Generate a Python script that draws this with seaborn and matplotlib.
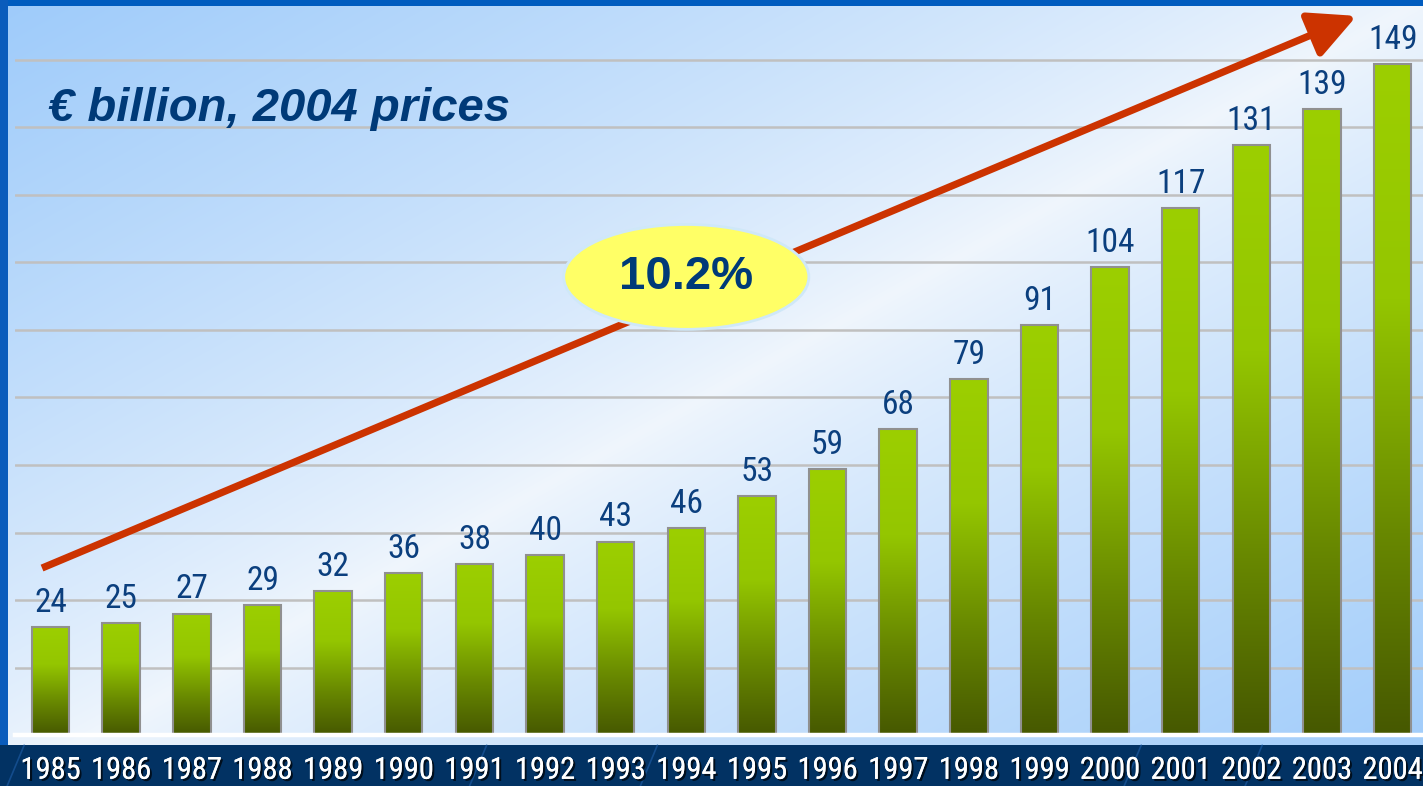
import numpy as np
import pandas as pd
import matplotlib
matplotlib.use("Agg")
import matplotlib.pyplot as plt
import matplotlib.patheffects as pe
from matplotlib.patches import Ellipse
from matplotlib.colors import LinearSegmentedColormap, to_rgb
import seaborn as sns

# data
years = [str(y) for y in range(1985, 2005)]
values = [24, 25, 27, 29, 32, 36, 38, 40, 43, 46, 53, 59, 68, 79, 91, 104, 117, 131, 139, 149]
growth_label = "10.2%"
title_text = "€ billion, 2004 prices"

W, H = 1423, 786
NAVY = "#023263"
TEXT_BLUE = "#003a78"
VALUE_BLUE = "#0b3f7e"

sns.set_theme(style="white")
plt.rcParams["font.family"] = ["Liberation Sans", "DejaVu Sans"]
narrow = ["Roboto Condensed", "DejaVu Sans"]

fig = plt.figure(figsize=(W / 100, H / 100), dpi=100)
fig.patch.set_facecolor(NAVY)

# background: blue frame, gradient panel, navy strip at the bottom
img = np.zeros((H, W, 3))
img[:, :] = to_rgb(NAVY)
yy, xx = np.mgrid[0:H, 0:W]
t = (xx / W + yy / H) / 2.0
s = np.abs(2 * t - 1) ** 0.8
blue = np.array(to_rgb("#9ecbfa"))
white = np.array(to_rgb("#f0f6fd"))
grad = white[None, None, :] * (1 - s[..., None]) + blue[None, None, :] * s[..., None]
panel = (yy >= 6) & (yy < 745) & (xx >= 8)
img[panel] = grad[panel]
img[:6, :] = to_rgb("#005cbf")
img[:745, :8] = to_rgb("#0a5cbc")

bg = fig.add_axes([0, 0, 1, 1])
bg.imshow(img, extent=[0, 1, 0, 1], aspect="auto", interpolation="nearest")
# faint decorative streaks in the navy strip
for x0 in [0.005, 0.45, 0.79, 0.875, 0.33]:
    bg.plot([x0, x0 + 0.012], [0.0, 0.052], color="#1f5ea8", lw=1.2, alpha=0.6)
bg.set_xlim(0, 1)
bg.set_ylim(0, 1)
bg.axis("off")

# main chart axes
ax = fig.add_axes([15.2 / W, 51 / H, 1412.8 / W, 729 / H])
ax.set_facecolor("none")

df = pd.DataFrame({"year": years, "value": values})
sns.barplot(data=df, x="year", y="value", ax=ax, width=0.53, color="#99cc00",
            edgecolor="#909090", linewidth=1.5, zorder=3)

bar_cmap = LinearSegmentedColormap.from_list(
    "bar", [(0.0, "#9ccf00"), (0.35, "#94c600"), (0.7, "#688800"), (1.0, "#465800")])
grad_col = np.linspace(0, 1, 256)[:, None]
for p in ax.patches:
    x0, y0 = p.get_x(), p.get_y()
    w, h = p.get_width(), p.get_height()
    im = ax.imshow(grad_col, cmap=bar_cmap, extent=[x0, x0 + w, y0, y0 + h],
                   aspect="auto", origin="upper", zorder=2.5, interpolation="bilinear")
    im.set_clip_path(p)
    p.set_facecolor("none")

ax.set_xlim(-0.5, len(years) - 0.5)
ax.set_ylim(0, 162)

# value labels
for i, v in enumerate(values):
    ax.annotate(str(v), (i, v), xytext=(0, 8), textcoords="offset pixels",
                ha="center", va="bottom", fontsize=24, color=VALUE_BLUE,
                family=narrow, zorder=6)

# gridlines
ax.set_yticks(np.arange(15, 151, 15))
ax.yaxis.grid(True, color="#c0c0c0", lw=1.8, zorder=1)
ax.set_axisbelow(True)
ax.tick_params(axis="y", length=0, labelleft=False)
ax.tick_params(axis="x", length=0, pad=15)
ax.set_xlabel("")
ax.set_ylabel("")
for side in ["top", "left", "right"]:
    ax.spines[side].set_visible(False)
ax.spines["bottom"].set_color("white")
ax.spines["bottom"].set_linewidth(3.2)
ax.spines["bottom"].set_zorder(4)

for lab in ax.get_xticklabels():
    lab.set_fontsize(22)
    lab.set_color("white")
    lab.set_family(narrow)
    lab.set_path_effects([pe.withSimplePatchShadow(offset=(1.5, -1.5),
                                                   shadow_rgbFace="black", alpha=0.7),
                          pe.Normal()])

# trend arrow
ax.annotate("", xy=(18.49, 159.8), xytext=(-0.12, 37.1),
            arrowprops=dict(arrowstyle="-|>,head_length=1.2,head_width=0.6",
                            mutation_scale=24, lw=5.2, color="#cc3300",
                            shrinkA=0, shrinkB=0, capstyle="butt"),
            zorder=4, annotation_clip=False)

# growth bubble
ell = Ellipse((9.0, 101.8), width=3.47, height=23.3, facecolor="#ffff66",
              edgecolor="#cfe8f8", lw=2, zorder=5)
ax.add_patch(ell)
ax.text(9.0, 101.8, growth_label, ha="center", va="center", fontsize=34,
        fontweight="bold", color=TEXT_BLUE, zorder=6)

fig.text(48 / W, 1 - 121 / H, title_text, ha="left", va="baseline", fontsize=34,
         fontweight="bold", fontstyle="italic", color=TEXT_BLUE)

fig.savefig("out.png", dpi=100, facecolor=fig.get_facecolor())
